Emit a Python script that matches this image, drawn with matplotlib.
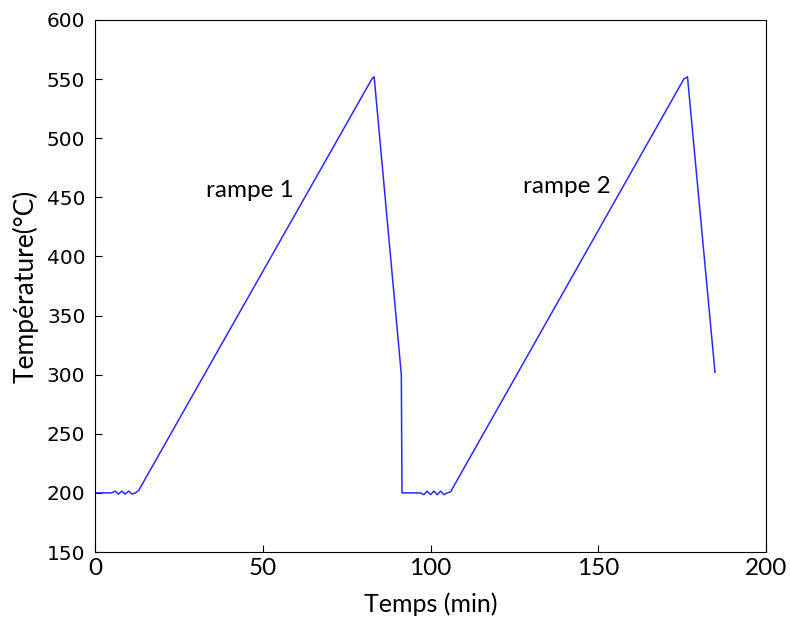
import matplotlib
matplotlib.use("Agg")
import matplotlib.pyplot as plt

# temps (min) / temperature (degC)
t_flat1 = [0, 5, 6, 7, 8, 9, 10, 11, 12, 13]
T_flat1 = [200, 200, 201.5, 199, 201.5, 199, 201.5, 199, 200, 202]
t_cyc1 = [82.5, 83.2, 91.3, 91.5]
T_cyc1 = [550, 552, 300, 200]
t_flat2 = [97, 98, 99, 100, 101, 102, 103, 104, 105, 106]
T_flat2 = [200, 198.5, 201.5, 198.5, 201.5, 198.5, 201.5, 198.5, 200, 201]
t_cyc2 = [175.5, 176.6, 184.8]
T_cyc2 = [550, 552, 302]

t = t_flat1 + t_cyc1 + t_flat2 + t_cyc2
T = T_flat1 + T_cyc1 + T_flat2 + T_cyc2

labels = ["rampe 1", "rampe 2"]
label_x = [33, 127.5]
label_y = [456, 459]

fig = plt.figure(figsize=(7.9, 6.21), dpi=100)
ax = fig.add_axes([0.1203, 0.1111, 0.8493, 0.8567])
ax.plot(t, T, color="#2a2aff", lw=1.1)

for s, x, y in zip(labels, label_x, label_y):
    ax.text(x, y, s, fontsize=17.5, family="Lato", va="center", ha="left")

ax.set_xlim(0, 200)
ax.set_ylim(150, 600)
ax.set_xticks([0, 50, 100, 150, 200])
ax.set_yticks(range(150, 601, 50))
ax.tick_params(direction="in", length=5, top=False, right=False)
ax.tick_params(axis="x", labelsize=17.5, labelfontfamily="Lato", pad=4)
ax.tick_params(axis="y", labelsize=14.5, pad=7)
ax.set_xlabel("Temps (min)", family="Lato", fontsize=18, labelpad=10)
ax.set_ylabel("Température(°C)", family="Lato", fontsize=19, labelpad=6)

fig.savefig("out.png", dpi=100)
